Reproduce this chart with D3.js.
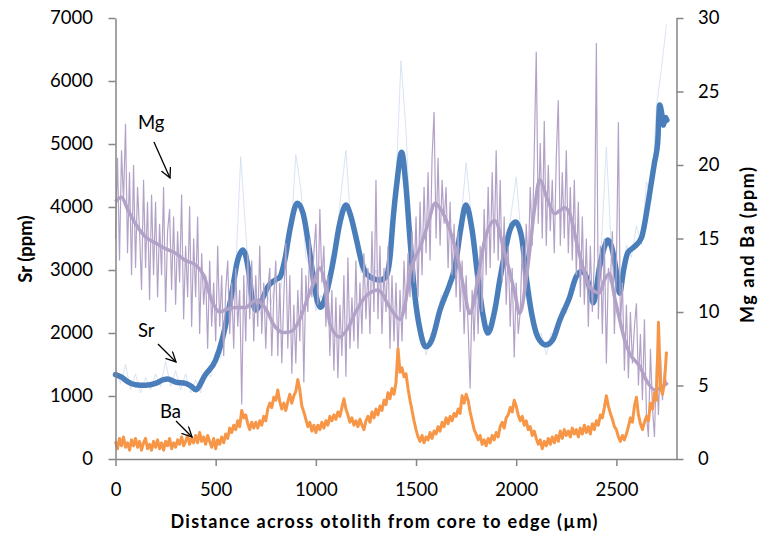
<!DOCTYPE html>
<html>
<head>
<meta charset="utf-8">
<script src="https://cdn.jsdelivr.net/npm/d3@7/dist/d3.min.js"></script>
<style>
  body { margin: 0; background: #fff; }
  text { font-family: Lato, "Open Sans", sans-serif; }
</style>
</head>
<body>
<svg id="chart" width="769" height="536"></svg>
<script>
// ---- data ----
var xTicks = [0, 500, 1000, 1500, 2000, 2500];
var srTicks = [0, 1000, 2000, 3000, 4000, 5000, 6000, 7000];
var ppmTicks = [0, 5, 10, 15, 20, 25, 30];

// Sr, smoothed (um, ppm)
var srDist = [0, 30, 60, 100, 150, 200, 240, 260, 300, 350, 380, 400, 447, 500, 532, 562, 586, 606, 636, 666, 681, 700, 730, 760, 796, 821, 845, 870, 907, 936, 960, 975, 990, 1010, 1025, 1050, 1085, 1120, 1150, 1175, 1200, 1235, 1270, 1320, 1350, 1370, 1385, 1405, 1428, 1450, 1470, 1495, 1520, 1548, 1580, 1620, 1670, 1695, 1720, 1749, 1780, 1810, 1833, 1858, 1893, 1918, 1943, 1968, 1997, 2027, 2052, 2077, 2107, 2147, 2182, 2217, 2267, 2300, 2330, 2360, 2385, 2416, 2441, 2456, 2476, 2496, 2516, 2536, 2556, 2590, 2626, 2650, 2666, 2690, 2706, 2716, 2726, 2735, 2745, 2752];
var srSmooth = [1340, 1300, 1230, 1180, 1170, 1200, 1260, 1270, 1220, 1200, 1150, 1100, 1330, 1570, 1890, 2320, 2730, 3110, 3317, 2950, 2570, 2365, 2520, 2730, 2840, 2890, 3160, 3630, 4060, 3900, 3480, 3150, 2800, 2480, 2410, 2600, 3110, 3750, 4030, 3850, 3520, 3050, 2890, 2840, 2890, 3200, 3790, 4400, 4870, 4320, 3480, 2570, 2050, 1780, 1900, 2370, 2790, 3050, 3590, 4030, 3630, 2840, 2310, 2000, 2360, 2840, 3270, 3630, 3760, 3520, 2840, 2310, 1940, 1810, 1890, 2200, 2570, 2900, 2980, 2800, 2480, 3050, 3370, 3475, 3370, 3050, 2630, 3000, 3270, 3370, 3520, 3900, 4220, 4700, 5020, 5620, 5490, 5300, 5420, 5380];

// Sr, raw readings every 25 um
var srRawStep = 25;
var srRaw = [1450, 1200, 1500, 1100, 1350, 1050, 1300, 1100, 1350, 1150,
  1550, 1150, 1400, 1100, 1350, 1050, 1250, 1050, 1400, 1300,
  1700, 1600, 2150, 2200, 3000, 4800, 3600, 2600, 2500, 2300,
  2650, 2450, 2850, 2700, 3300, 3500, 4830, 4300, 3200, 3000,
  2350, 2600, 2450, 3200, 3400, 4200, 4900, 3700, 3500, 2950,
  3100, 2700, 3000, 2700, 3050, 3150, 4400, 6320, 5200, 3500,
  2400, 2100, 1650, 2000, 2050, 2600, 2500, 3000, 3100, 3800,
  4700, 3900, 3000, 2600, 1950, 2250, 2400, 3100, 3350, 3900,
  4480, 3500, 2750, 2450, 1900, 2000, 1650, 2000, 1950, 2400,
  2300, 2750, 2800, 3150, 2700, 2650, 2600, 3400, 4950, 3300,
  3050, 2600, 3400, 3200, 3700, 3400, 4400, 4100, 5600, 6200, 6900];

// Mg, smoothed (um, ppm)
var mgDist = [0, 30, 60, 100, 150, 200, 250, 300, 350, 400, 440, 480, 520, 560, 600, 646, 700, 746, 796, 840, 880, 920, 960, 990, 1020, 1050, 1070, 1120, 1160, 1195, 1245, 1310, 1370, 1420, 1445, 1470, 1520, 1560, 1595, 1618, 1668, 1708, 1743, 1768, 1808, 1843, 1893, 1943, 1993, 2017, 2057, 2092, 2117, 2157, 2192, 2242, 2267, 2307, 2342, 2367, 2416, 2441, 2466, 2491, 2516, 2541, 2566, 2616, 2656, 2691, 2726, 2756];
var mgSmooth = [17.5, 17.8, 17.0, 16.0, 15.1, 14.7, 14.3, 14.0, 13.5, 13.2, 12.5, 10.8, 10.0, 10.2, 10.3, 10.3, 10.8, 10.3, 9.0, 8.6, 8.7, 9.5, 11.0, 12.0, 13.0, 11.5, 9.2, 8.3, 8.9, 9.9, 11.0, 11.5, 10.3, 9.5, 10.5, 12.6, 14.4, 16.0, 17.4, 17.1, 15.6, 13.7, 11.3, 9.9, 12.2, 14.9, 16.2, 14.0, 11.3, 9.9, 13.0, 17.1, 19.0, 17.6, 16.7, 17.1, 16.7, 14.4, 12.6, 11.7, 11.3, 12.2, 12.6, 11.0, 9.5, 8.1, 7.2, 6.3, 5.2, 4.7, 4.9, 5.2];

// Mg and Ba, raw readings every 10 um (one row = 100 um)
var rawStep = 10;
var mgRaw = [15.0, 20.5, 13.5, 21.0, 17.5, 22.8, 14.0, 19.5, 12.5, 20.0,
  13.0, 18.5, 15.5, 11.5, 19.0, 13.0, 17.5, 10.8, 18.0, 12.5,
  17.5, 11.0, 16.0, 12.5, 18.5, 10.0, 15.5, 17.0, 11.5, 16.5,
  10.5, 15.5, 12.0, 18.0, 9.5, 14.5, 11.0, 17.2, 9.0, 15.0,
  11.0, 16.5, 8.5, 14.0, 10.5, 12.5, 7.5, 13.5, 9.0, 12.0,
  8.0, 14.5, 9.0, 12.5, 7.0, 11.5, 13.5, 8.5, 12.0, 7.5,
  13.0, 9.0, 11.5, 3.7, 12.5, 8.0, 14.0, 9.5, 13.5, 8.0,
  12.5, 9.0, 14.5, 8.5, 12.0, 7.5, 11.5, 13.0, 7.0, 11.0,
  13.5, 7.0, 12.0, 6.5, 11.0, 14.7, 7.5, 12.5, 5.8, 10.5,
  6.5, 11.5, 8.0, 13.0, 5.2, 12.5, 10.0, 15.0, 11.0, 14.0,
  16.0, 10.5, 17.0, 12.0, 14.5, 9.0, 12.5, 7.0, 11.5, 6.0,
  11.0, 5.5, 10.5, 7.0, 12.5, 5.6, 13.7, 7.5, 11.0, 8.0,
  13.5, 7.5, 12.0, 8.5, 14.0, 9.5, 13.0, 8.5, 15.5, 10.0,
  19.0, 9.5, 14.5, 8.5, 13.0, 10.0, 14.5, 7.5, 12.5, 8.0,
  12.0, 6.9, 11.5, 8.0, 13.5, 9.5, 14.0, 11.0, 15.5, 12.0,
  16.5, 11.0, 17.5, 12.5, 18.5, 14.0, 19.5, 13.5, 20.5, 23.6,
  15.0, 20.5, 14.5, 19.0, 16.0, 18.5, 13.0, 17.5, 12.5, 16.0,
  11.0, 15.5, 10.0, 13.5, 8.5, 12.5, 9.0, 4.8, 11.5, 8.0,
  12.5, 8.5, 14.5, 10.0, 17.0, 12.5, 18.5, 13.0, 19.5, 14.0,
  21.0, 13.5, 19.0, 12.0, 16.5, 10.5, 14.5, 9.0, 13.0, 6.9,
  12.0, 8.5, 10.0, 14.5, 11.0, 16.0, 13.0, 18.5, 14.5, 20.8,
  27.7, 16.0, 21.5, 15.0, 23.0, 14.5, 20.0, 15.5, 19.0, 14.0,
  20.5, 24.4, 14.5, 19.5, 15.0, 21.0, 14.0, 18.5, 13.5, 19.0,
  12.5, 17.5, 11.0, 16.5, 10.5, 15.0, 9.0, 14.5, 10.0, 13.5,
  28.3, 9.5, 14.5, 8.5, 15.0, 6.5, 13.0, 12.0, 15.5, 8.5,
  13.0, 22.9, 9.0, 12.0, 6.0, 10.5, 5.5, 10.0, 6.5, 9.0,
  10.6, 5.0, 8.5, 4.0, 9.5, 3.0, 1.5, 7.5, 3.5, 1.5,
  6.5, 3.0, 7.0, 4.0, 6.0, 5.0];
var baRaw = [1.2, 0.7, 1.4, 0.9, 1.5, 0.8, 1.1, 0.6, 1.3, 0.9,
  1.4, 0.8, 1.2, 0.6, 1.1, 1.4, 0.7, 1.0, 0.6, 1.2,
  0.8, 1.3, 0.7, 1.1, 0.6, 1.2, 0.9, 1.4, 0.7, 1.1,
  0.8, 1.3, 1.0, 1.5, 0.9, 1.2, 1.6, 1.0, 1.4, 1.1,
  1.6, 1.1, 1.8, 1.2, 1.5, 1.0, 1.6, 1.2, 0.8, 1.4,
  0.7, 1.3, 1.0, 1.5, 1.1, 1.7, 1.4, 2.1, 1.8, 2.3,
  2.0, 2.6, 2.2, 3.3, 2.8, 3.0, 2.4, 2.0, 2.5, 2.1,
  2.5, 2.1, 2.6, 2.3, 2.9, 2.6, 3.4, 3.8, 3.5, 4.2,
  4.0, 4.7, 3.9, 3.4, 3.8, 3.3, 3.9, 4.4, 3.8, 4.3,
  4.6, 5.4, 4.7, 3.6, 3.2, 2.7, 2.2, 2.5, 1.9, 2.3,
  1.8, 2.3, 2.0, 2.5, 2.1, 2.6, 2.3, 2.9, 2.6, 3.0,
  2.7, 3.2, 2.9, 3.5, 4.1, 3.4, 3.0, 2.5, 2.8, 2.3,
  2.6, 2.2, 2.7, 2.3, 2.0, 2.6, 2.9, 2.5, 3.2, 2.8,
  3.4, 3.0, 3.6, 3.3, 4.0, 3.7, 4.5, 4.1, 4.8, 4.4,
  5.2, 7.5, 5.9, 6.2, 5.6, 5.8, 4.8, 4.0, 3.3, 2.6,
  2.0, 1.5, 1.2, 1.6, 1.1, 1.5, 1.3, 1.8, 1.4, 1.9,
  1.7, 2.2, 1.9, 2.5, 2.2, 2.8, 2.4, 2.9, 2.6, 3.1,
  2.9, 3.4, 3.1, 4.3, 3.8, 4.4, 4.0, 3.2, 2.6, 2.0,
  1.7, 1.3, 1.6, 1.0, 1.3, 0.9, 1.4, 1.1, 1.6, 1.3,
  1.8, 1.5, 2.2, 2.5, 2.1, 2.8, 3.0, 3.5, 3.2, 4.0,
  3.6, 3.0, 2.6, 2.9, 2.3, 2.6, 2.0, 2.2, 1.6, 1.9,
  1.4, 1.0, 1.3, 0.7, 1.2, 0.9, 1.4, 1.0, 1.5, 1.1,
  1.6, 1.2, 1.9, 1.4, 2.0, 1.6, 1.9, 1.5, 2.1, 1.7,
  2.0, 1.5, 2.1, 1.7, 2.3, 1.8, 2.2, 1.7, 2.4, 2.0,
  2.6, 2.3, 3.0, 2.8, 3.5, 4.3, 3.6, 3.1, 2.7, 2.2,
  2.0, 1.5, 1.2, 1.6, 1.3, 1.7, 2.2, 2.8, 2.5, 3.6,
  4.2, 3.0, 2.4, 2.0, 2.5, 2.9, 2.6, 3.8, 3.4, 4.5,
  4.0, 9.3, 4.9, 4.4, 5.2, 7.3];

// callouts: label, label position, arrow from, arrow to (um, Sr ppm)
var notes = [
  { label: "Mg", at: [112, 5240], from: [192, 5030], to: [272, 4460] },
  { label: "Sr", at: [112, 1940], from: [212, 1825], to: [302, 1540] },
  { label: "Ba", at: [222, 650], from: [302, 603], to: [382, 349] }
];

// ---- chart ----
var width = 769, height = 536;
var margin = { top: 18, right: 92.5, bottom: 77, left: 115.5 };
var axisColor = "#868686";

var svg = d3.select("#chart");

var x = d3.scaleLinear().domain([0, 2800]).range([margin.left, width - margin.right]);
var ySr = d3.scaleLinear().domain([0, 7000]).range([height - margin.bottom, margin.top]);
var yPpm = d3.scaleLinear().domain([0, 30]).range([height - margin.bottom, margin.top]);

function pairs(xs, ys) { return xs.map(function (d, i) { return [d, ys[i]]; }); }
function stepped(vals, step) { return vals.map(function (v, i) { return [i * step, v]; }); }

var lineSr = d3.line().x(function (d) { return x(d[0]); }).y(function (d) { return ySr(d[1]); });
var linePpm = d3.line().x(function (d) { return x(d[0]); }).y(function (d) { return yPpm(d[1]); });

var plot = svg.append("g");

// Sr raw + smooth
plot.append("path").datum(stepped(srRaw, srRawStep))
  .attr("d", lineSr).attr("fill", "none")
  .attr("stroke", "#c9d9ee").attr("stroke-opacity", 0.7).attr("stroke-width", 1);
plot.append("path").datum(pairs(srDist, srSmooth))
  .attr("d", lineSr.curve(d3.curveMonotoneX)).attr("fill", "none")
  .attr("stroke", "#4a7ebb").attr("stroke-width", 5.5).attr("stroke-linejoin", "round").attr("stroke-linecap", "round");

// Mg raw + smooth
plot.append("path").datum(stepped(mgRaw, rawStep))
  .attr("d", linePpm).attr("fill", "none")
  .attr("stroke", "#b3a2c7").attr("stroke-width", 1.2);
plot.append("path").datum(pairs(mgDist, mgSmooth))
  .attr("d", linePpm.curve(d3.curveMonotoneX)).attr("fill", "none")
  .attr("stroke", "#b3a2c7").attr("stroke-width", 3.5).attr("stroke-linejoin", "round");

// Ba
plot.append("path").datum(stepped(baRaw, rawStep))
  .attr("d", linePpm.curve(d3.curveLinear)).attr("fill", "none")
  .attr("stroke", "#f79646").attr("stroke-width", 3).attr("stroke-linejoin", "round");

// axes
function styleAxis(g) {
  g.select(".domain").attr("stroke", axisColor).attr("stroke-width", 1.5);
  g.selectAll(".tick line").attr("stroke", axisColor).attr("stroke-width", 1.5);
  g.selectAll(".tick text").attr("fill", "#000").style("font-size", "18.5px").style("font-family", "Lato, 'Open Sans', sans-serif");
}

svg.append("g")
  .attr("transform", "translate(0," + (height - margin.bottom) + ")")
  .call(d3.axisBottom(x).tickValues(xTicks).tickFormat(d3.format("d")).tickSize(7).tickSizeOuter(0).tickPadding(17))
  .call(styleAxis);

svg.append("g")
  .attr("transform", "translate(" + margin.left + ",0)")
  .call(d3.axisLeft(ySr).tickValues(srTicks).tickFormat(d3.format("d")).tickSize(7).tickSizeOuter(0).tickPadding(15.5))
  .call(styleAxis);

svg.append("g")
  .attr("transform", "translate(" + (width - margin.right) + ",0)")
  .call(d3.axisRight(yPpm).tickValues(ppmTicks).tickFormat(d3.format("d")).tickSize(7).tickSizeOuter(0).tickPadding(14.5))
  .call(styleAxis);

// titles
svg.append("text")
  .attr("x", 384).attr("y", 528).attr("text-anchor", "middle")
  .attr("textLength", 427).attr("lengthAdjust", "spacing")
  .style("font-size", "18px").style("font-weight", "bold")
  .text("Distance across otolith from core to edge (µm)");

svg.append("text")
  .attr("transform", "translate(32,249) rotate(-90)").attr("text-anchor", "middle")
  .style("font-size", "18.5px").style("font-weight", "bold")
  .text("Sr (ppm)");

svg.append("text")
  .attr("transform", "translate(754,245) rotate(-90)").attr("text-anchor", "middle")
  .attr("textLength", 156).attr("lengthAdjust", "spacing")
  .style("font-size", "18px").style("font-weight", "bold")
  .text("Mg and Ba (ppm)");

// callouts
svg.append("defs").append("marker")
  .attr("id", "vhead").attr("markerUnits", "userSpaceOnUse")
  .attr("markerWidth", 12).attr("markerHeight", 12)
  .attr("refX", 10).attr("refY", 5).attr("orient", "auto")
  .append("path").attr("d", "M0,0 L10,5 L0,10")
  .attr("fill", "none").attr("stroke", "#000").attr("stroke-width", 1.3);

var note = svg.append("g").selectAll("g").data(notes).join("g");
note.append("text")
  .attr("x", function (d) { return x(d.at[0]); })
  .attr("y", function (d) { return ySr(d.at[1]); })
  .style("font-size", "18.5px")
  .text(function (d) { return d.label; });
note.append("line")
  .attr("x1", function (d) { return x(d.from[0]); })
  .attr("y1", function (d) { return ySr(d.from[1]); })
  .attr("x2", function (d) { return x(d.to[0]); })
  .attr("y2", function (d) { return ySr(d.to[1]); })
  .attr("stroke", "#000").attr("stroke-width", 1.3)
  .attr("marker-end", "url(#vhead)");
</script>
</body>
</html>
